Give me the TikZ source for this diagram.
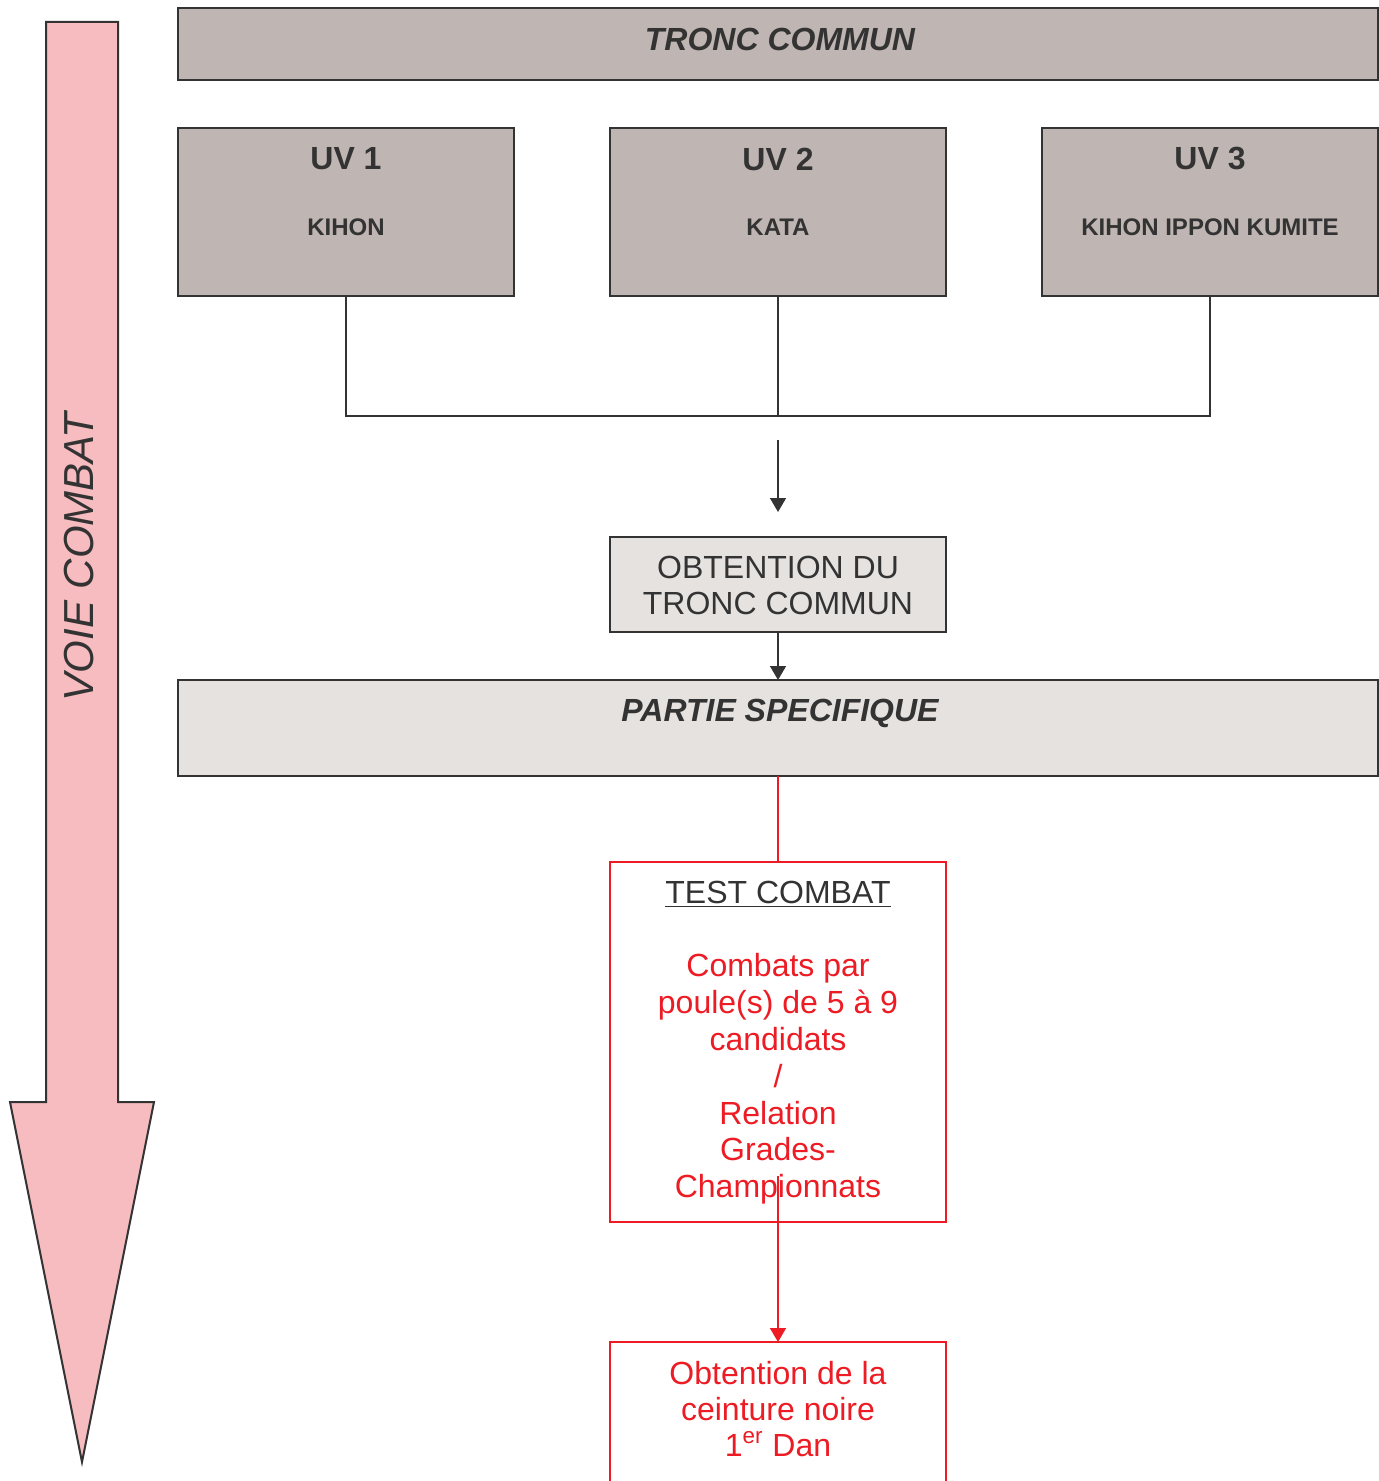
\documentclass[tikz,border=0pt]{standalone}
\usepackage{fontspec}
\setmainfont{Liberation Sans}
\usetikzlibrary{arrows.meta}
\definecolor{ink}{HTML}{333333}
\definecolor{darkbox}{HTML}{BFB5B2}
\definecolor{lightbox}{HTML}{E6E2E0}
\definecolor{redc}{HTML}{ED1C24}
\definecolor{pinkf}{HTML}{F7BCC0}
\begin{document}
\begin{tikzpicture}[x=0.5pt,y=-0.5pt,
  box/.style={draw=ink,line width=1pt,inner sep=0pt,outer sep=0pt,rectangle},
  redbox/.style={draw=redc,line width=1pt,inner sep=0pt,outer sep=0pt,rectangle,fill=white},
  conn/.style={draw=ink,line width=0.8pt},
  redconn/.style={draw=redc,line width=0.8pt},
  tip/.style={-{Triangle[width=8pt,length=7pt]}},
  big/.style={font=\fontsize{16pt}{18pt}\selectfont,text=ink,inner sep=0pt,align=center},
  bigb/.style={font=\bfseries\fontsize{16pt}{18pt}\selectfont,text=ink,inner sep=0pt},
  small/.style={font=\bfseries\fontsize{12pt}{14pt}\selectfont,text=ink,inner sep=0pt},
  redt/.style={font=\fontsize{16pt}{18.4pt}\selectfont,text=redc,inner sep=0pt,align=center},
]
\useasboundingbox (0,0) rectangle (1379,1481);
\clip (0,0) rectangle (1379,1481);
% left arrow
\draw[fill=pinkf,draw=ink,line width=1pt] (46,22) -- (118,22) -- (118,1102) -- (154,1102) -- (82,1462) -- (10,1102) -- (46,1102) -- cycle;
\node[rotate=90,font=\itshape\fontsize{21pt}{21pt}\selectfont,text=ink,inner sep=0pt] (voie) at (79,557) {VOIE COMBAT};
% boxes
\node[box,fill=darkbox,minimum width=600pt,minimum height=36pt] (tc) at (778,44) {};
\node[box,fill=darkbox,minimum width=168pt,minimum height=84pt] (uv1) at (346,212) {};
\node[box,fill=darkbox,minimum width=168pt,minimum height=84pt] (uv2) at (778,212) {};
\node[box,fill=darkbox,minimum width=168pt,minimum height=84pt] (uv3) at (1210,212) {};
\node[box,fill=lightbox,minimum width=168pt,minimum height=47.5pt] (obt) at (778,584.5) {};
\node[box,fill=lightbox,minimum width=600pt,minimum height=48pt] (ps) at (778,728) {};
\node[redbox,minimum width=168pt,minimum height=180pt] (test) at (778,1042) {};
\node[redbox,minimum width=168pt,minimum height=79pt] (fin) at (778,1421) {};
% texts
\node[bigb,font=\bfseries\itshape\fontsize{16pt}{18pt}\selectfont] (tct) at (780,39) {TRONC COMMUN};
\node[bigb] (uv1a) at (346,159) {UV 1};
\node[small] (uv1b) at (346,227) {KIHON};
\node[bigb] (uv2a) at (778,159) {UV 2};
\node[small] (uv2b) at (778,227) {KATA};
\node[bigb] (uv3a) at (1210,159) {UV 3};
\node[small] (uv3b) at (1210,227) {KIHON IPPON KUMITE};
\node[big] (obtt) at (778,585) {OBTENTION DU\\TRONC COMMUN};
\node[bigb,font=\bfseries\itshape\fontsize{16pt}{18pt}\selectfont] (pst) at (780,713) {PARTIE SPECIFIQUE};
\node[big] (testt) at (778,894) {\underline{TEST COMBAT}};
\node[redt] (testr) at (778,1079) {Combats par\\poule(s) de 5 à 9\\candidats\\/\\Relation\\Grades-\\Championnats};
\node[redt,font=\fontsize{16pt}{18pt}\selectfont] (fint) at (778,1409) {Obtention de la\\ceinture noire\\1\textsuperscript{er} Dan};
% connectors
\coordinate (j) at (778,416);
\coordinate (a0) at (778,440);
\coordinate (r0) at (778,1176);
\draw[conn] (uv1.south) |- (uv3.south |- j) -- (uv3.south);
\draw[conn] (uv2.south) -- (uv2.south |- j);
\draw[conn,tip,fill=ink,shorten >=12.5pt] (a0) -- (obt.north);
\draw[conn,tip,fill=ink] (obt.south) -- (ps.north);
\draw[redconn] (ps.south) -- (test.north);
\draw[redconn,tip,fill=redc] (r0) -- (fin.north);
\end{tikzpicture}
\end{document}
